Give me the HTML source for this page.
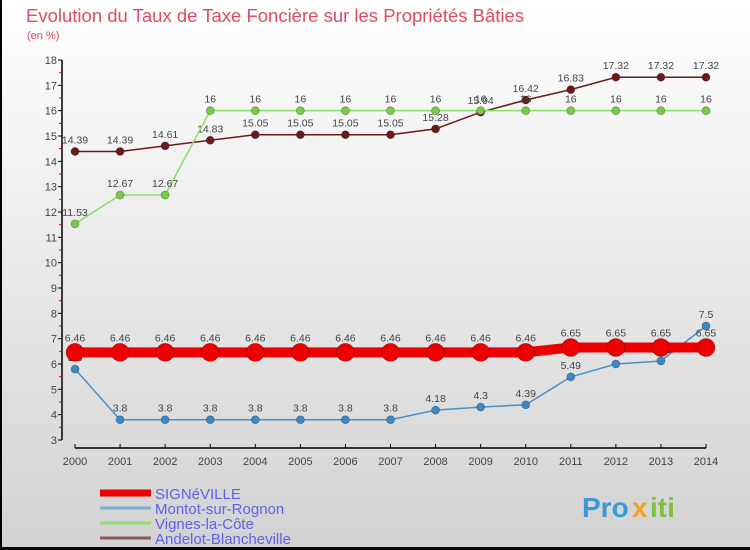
<!DOCTYPE html>
<html><head><meta charset="utf-8"><style>
body{margin:0;}
svg{display:block;font-family:"Liberation Sans",sans-serif;}
</style></head><body>
<svg width="750" height="550" viewBox="0 0 750 550">
<defs><linearGradient id="bg" x1="0" y1="0" x2="0" y2="1"><stop offset="0" stop-color="#ffffff"/><stop offset="1" stop-color="#d2d2d2"/></linearGradient></defs>
<rect width="750" height="550" fill="url(#bg)"/>
<rect x="0" y="0" width="2" height="550" fill="#000"/>
<rect x="0" y="547" width="750" height="3" fill="#000"/>
<text x="26" y="22" font-size="18.5" fill="#e24a62">Evolution du Taux de Taxe Foncière sur les Propriétés Bâties</text>
<text x="27" y="39" font-size="11" fill="#e0405a">(en %)</text>
<g id="axes"></g>
<g id="series"></g>
<g id="legend" font-size="15" fill="#6060ee"></g>
<g font-size="28" font-weight="bold">
<text x="582" y="517" fill="#3a9ad8">Pro</text><text x="632" y="517" fill="#f0a020">x</text><text x="650" y="517" fill="#80c040">iti</text>
</g>
</svg>
<script>
const years=[2000,2001,2002,2003,2004,2005,2006,2007,2008,2009,2010,2011,2012,2013,2014];
const yTicks=[3,4,5,6,7,8,9,10,11,12,13,14,15,16,17,18];
const signeville=[6.46,6.46,6.46,6.46,6.46,6.46,6.46,6.46,6.46,6.46,6.46,6.65,6.65,6.65,6.65];
const montot=[5.8,3.8,3.8,3.8,3.8,3.8,3.8,3.8,4.18,4.3,4.39,5.49,6,6.12,7.5];
const vignes=[11.53,12.67,12.67,16,16,16,16,16,16,16,16,16,16,16,16];
const andelot=[14.39,14.39,14.61,14.83,15.05,15.05,15.05,15.05,15.28,15.94,16.42,16.83,17.32,17.32,17.32];
const names=["SIGNéVILLE","Montot-sur-Rognon","Vignes-la-Côte","Andelot-Blancheville"];
const NS="http://www.w3.org/2000/svg";
const x=i=>75+i*(631/14);
const y=v=>60+(18-v)*(380/15);
function mk(tag,at,parent){const e=document.createElementNS(NS,tag);for(const k in at)e.setAttribute(k,at[k]);parent.appendChild(e);return e;}
const ax=document.getElementById('axes');
let a=mk('line',{x1:62,y1:y(18),x2:62,y2:y(3),stroke:'#000','stroke-width':1.5},ax);


a=mk('line',{x1:x(0),y1:448,x2:x(14),y2:448,stroke:'#000','stroke-width':1.5},ax);


yTicks.forEach(v=>{
 mk('line',{x1:58,y1:y(v),x2:62,y2:y(v),stroke:'#000'},ax);
 if(v<18)mk('line',{x1:59,y1:y(v+0.5),x2:62,y2:y(v+0.5),stroke:'#e00'},ax);
 const t=mk('text',{x:57,y:y(v)+4,'text-anchor':'end','font-size':11,fill:'#444'},ax);
 t.textContent=v;
 
 
});
years.forEach((yr,i)=>{
 mk('line',{x1:x(i),y1:444,x2:x(i),y2:448,stroke:'#000'},ax);
 const t=mk('text',{x:x(i),y:465,'text-anchor':'middle','font-size':11,fill:'#444'},ax);
 t.textContent=yr;
 
 
});
const sg=document.getElementById('series');
const defs=[[andelot,'#6b1a1a',1.5,4,'andelot'],[vignes,'#88dd66',1.5,4,'vignes'],[montot,'#4a90c8',1.5,4,'montot'],[signeville,'#ee0000',10,9,'signeville']];
const fills={andelot:'#6b1a1a',vignes:'#77cc44',montot:'#3a88c8',signeville:'#ee0000'};
defs.forEach(([d,c,w,r,n])=>{
 const g=mk('g',{},sg);
 
 
 const p=mk('polyline',{points:d.map((v,i)=>x(i)+','+y(v)).join(' '),fill:'none',stroke:c,'stroke-width':w},g);
 
 
 d.forEach((v,i)=>{
  const ci=mk('circle',{cx:x(i),cy:y(v),r:r,fill:fills[n],stroke:'rgba(0,0,0,0.3)','stroke-width':0.8},g);
  
  
  const t=mk('text',{x:x(i),y:y(v)-(n==='signeville'?11:8),'text-anchor':'middle','font-size':10.5,fill:'#444'},g);
  t.textContent=String(v);
  
  
 });
});
const lg=document.getElementById('legend');
const lc=['#ee0000','#7aaed0','#99dd77','#8a5a5a'],lw=[7,3,3,3];
names.forEach((nm,i)=>{
 const g=mk('g',{},lg);
 
 
 const yy=493+i*15;
 mk('line',{x1:100,y1:yy,x2:151,y2:yy,stroke:lc[i],'stroke-width':lw[i]},g);
 const t=mk('text',{x:155,y:yy+6},g);
 t.textContent=nm;
});
</script>
</body></html>
